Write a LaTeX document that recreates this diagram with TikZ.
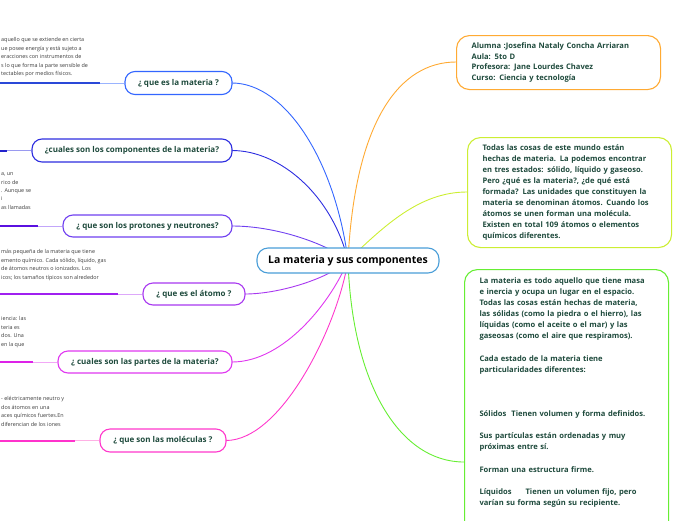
\documentclass[tikz,border=0pt]{standalone}
\usepackage{fontspec}
\setmainfont{Open Sans}
\definecolor{txt}{HTML}{1E4A3C}
\definecolor{frag}{HTML}{3A3A3A}
\definecolor{cmain}{HTML}{4A9ED8}
\definecolor{cA}{HTML}{3366FF}\definecolor{cAd}{HTML}{2A48D8}\definecolor{cAl}{HTML}{9AB4FF}
\definecolor{cB}{HTML}{2E2EE0}\definecolor{cBd}{HTML}{2222CC}\definecolor{cBl}{HTML}{9A9AF0}
\definecolor{cC}{HTML}{7040F0}\definecolor{cCd}{HTML}{5A10E0}\definecolor{cCl}{HTML}{C2A6FA}
\definecolor{cD}{HTML}{A838F0}\definecolor{cDd}{HTML}{A020F0}\definecolor{cDl}{HTML}{DDA8FA}
\definecolor{cE}{HTML}{E038F0}\definecolor{cEd}{HTML}{DD22E8}\definecolor{cEl}{HTML}{F2A8F6}
\definecolor{cF}{HTML}{FF38CC}\definecolor{cFd}{HTML}{FF33CC}\definecolor{cFl}{HTML}{FFB0E4}
\definecolor{cO}{HTML}{FFAA33}
\definecolor{cY}{HTML}{CCEE33}
\definecolor{cG}{HTML}{66EE33}
\tikzset{
  qbox/.style={draw=#1, line width=1.1pt, rounded corners=10pt, fill=white, inner sep=0pt,
    text=txt, font=\fontsize{8pt}{10pt}\selectfont\bfseries},
  infobox/.style={draw=#1, line width=1.1pt, rounded corners=13pt, fill=white, inner xsep=15pt,
    text=txt, align=left, font=\fontsize{7.6pt}{10.9pt}\selectfont\bfseries},
  fragtext/.style={anchor=north west, inner sep=0pt, align=left, text=frag,
    font=\fontsize{5.4pt}{8.4pt}\selectfont},
  link/.style={draw=#1, line width=0.9pt},
  thinlink/.style={draw=#1, line width=0.9pt},
  thicklink/.style={draw=#1, line width=2pt},
}
\begin{document}
\begin{tikzpicture}[x=1pt,y=-1pt]
\useasboundingbox (0,0) rectangle (696,520);
% coordinates for leaf underline ends
\coordinate (eA) at (0,83);   \coordinate (mA) at (100,83);
\coordinate (eB) at (0,150.5);  \coordinate (mB) at (7,150.5);
\coordinate (eC) at (0,226);  \coordinate (mC) at (38,226);
\coordinate (eD) at (0,294);  \coordinate (mD) at (118,294);
\coordinate (eE) at (0,362);  \coordinate (mE) at (33,362);
\coordinate (eF) at (0,440.5);  \coordinate (mF) at (75,440.5);
\coordinate (cc) at (348,260.5);
% connectors from centre
\draw[link=cA] (cc) .. controls (335,160) and (285,83) .. (232,83);
\draw[link=cB] (cc) .. controls (332,195) and (280,150.5) .. (232,150.5);
\draw[link=cC] (cc) .. controls (330,246) and (280,226) .. (232,226);
\draw[link=cD] (cc) .. controls (330,278) and (280,294) .. (245,294);
\draw[link=cE] (cc) .. controls (332,300) and (285,362) .. (232,362);
\draw[link=cF] (cc) .. controls (338,325) and (282,440.5) .. (226,440.5);
\draw[link=cO] (cc) .. controls (355,120) and (400,62) .. (456,62);
\draw[link=cY] (cc) .. controls (385,225) and (420,192) .. (467,192);
\draw[link=cG] (cc) .. controls (352,385) and (400,462) .. (464,462);
% centre node
\node[draw=cmain, line width=1.1pt, rounded corners=11pt, fill=white, minimum width=182pt,
  minimum height=25pt, inner sep=0pt, text=black, font=\fontsize{10.5pt}{12pt}\selectfont\bfseries]
  (c) at (348,260.5) {La materia y sus componentes};
% question nodes
\node[qbox=cA, minimum width=107pt, minimum height=23pt] (nA) at (178.5,83) {¿ que es la materia ?};
\node[qbox=cB, minimum width=200pt, minimum height=23pt] (nB) at (132,150.5) {¿cuales son los componentes de la materia?};
\node[qbox=cC, minimum width=169pt, minimum height=22pt] (nC) at (147.5,226) {¿ que son los protones y neutrones?};
\node[qbox=cD, minimum width=102pt, minimum height=22pt] (nD) at (194,294) {¿ que es el átomo ?};
\node[qbox=cE, minimum width=174pt, minimum height=22pt] (nE) at (145,362) {¿ cuales son las partes de la materia?};
\node[qbox=cF, minimum width=126pt, minimum height=23pt] (nF) at (163,440.5) {¿ que son las moléculas ?};
% leaf lines
\draw[thinlink=cAl] (nA.west) -- (mA); \draw[thicklink=cAd] (mA) -- (eA);
\draw[thinlink=cBl] (nB.west) -- (mB); \draw[thicklink=cBd] (mB) -- (eB);
\draw[thinlink=cCl] (nC.west) -- (mC); \draw[thicklink=cCd] (mC) -- (eC);
\draw[thinlink=cDl] (nD.west) -- (mD); \draw[thicklink=cDd] (mD) -- (eD);
\draw[thinlink=cEl] (nE.west) -- (mE); \draw[thicklink=cEd] (mE) -- (eE);
\draw[thinlink=cFl] (nF.west) -- (mF); \draw[thicklink=cFd] (mF) -- (eF);
% leaf text fragments
\node[fragtext] (tA) at (1,37.5) {aquello que se extiende en cierta\\ue posee energía y está sujeto a\\eracciones con instrumentos de\\s lo que forma la parte sensible de\\tectables por medios físicos.};
\node[fragtext] (tC) at (1,172.5) {a, un\\rico de\\. Aunque se\\i\\as llamadas};
\node[fragtext] (tD) at (1,249.5) {más pequeña de la materia que tiene\\emento químico. Cada sólido, líquido, gas\\de átomos neutros o ionizados. Los\\icos; los tamaños típicos son alrededor};
\node[fragtext] (tE) at (1,316.5) {iencia: las\\teria es\\dos. Una\\en la que};
\node[fragtext] (tF) at (1,396.5) {- eléctricamente neutro y\\dos átomos en una\\aces químicos fuertes.En\\diferencian de los iones};
% right boxes
\node[infobox=cO, minimum width=204pt, minimum height=54pt, text width=174pt, anchor=north west]
  (r1) at (456,35) {Alumna :Josefina Nataly Concha Arriaran\\Aula: 5to D\\Profesora: Jane Lourdes Chavez\\Curso: Ciencia y tecnología};
\node[infobox=cY, minimum width=204pt, minimum height=110pt, text width=174pt, anchor=north west]
  (r2) at (467,137) {Todas las cosas de este mundo están\\hechas de materia. La podemos encontrar\\en tres estados: sólido, líquido y gaseoso.\\Pero ¿qué es la materia?, ¿de qué está\\formada? Las unidades que constituyen la\\materia se denominan átomos. Cuando los\\átomos se unen forman una molécula.\\Existen en total 109 átomos o elementos\\químicos diferentes.};
\node[infobox=cG, minimum width=204pt, text width=174pt, inner ysep=8pt, text depth=300pt, anchor=north west,
  font=\fontsize{7.6pt}{11.1pt}\selectfont\bfseries]
  (r3) at (464,269) {La materia es todo aquello que tiene masa\\e inercia y ocupa un lugar en el espacio.\\Todas las cosas están hechas de materia,\\las sólidas (como la piedra o el hierro), las\\líquidas (como el aceite o el mar) y las\\gaseosas (como el aire que respiramos).\\[11.1pt]Cada estado de la materia tiene\\particularidades diferentes:\\[33.3pt]Sólidos\ \ Tienen volumen y forma definidos.\\[11.1pt]Sus partículas están ordenadas y muy\\próximas entre sí.\\[11.1pt]Forman una estructura firme.\\[11.1pt]Líquidos\hspace{14pt}Tienen un volumen fijo, pero\\varían su forma según su recipiente.};
\end{tikzpicture}
\end{document}
